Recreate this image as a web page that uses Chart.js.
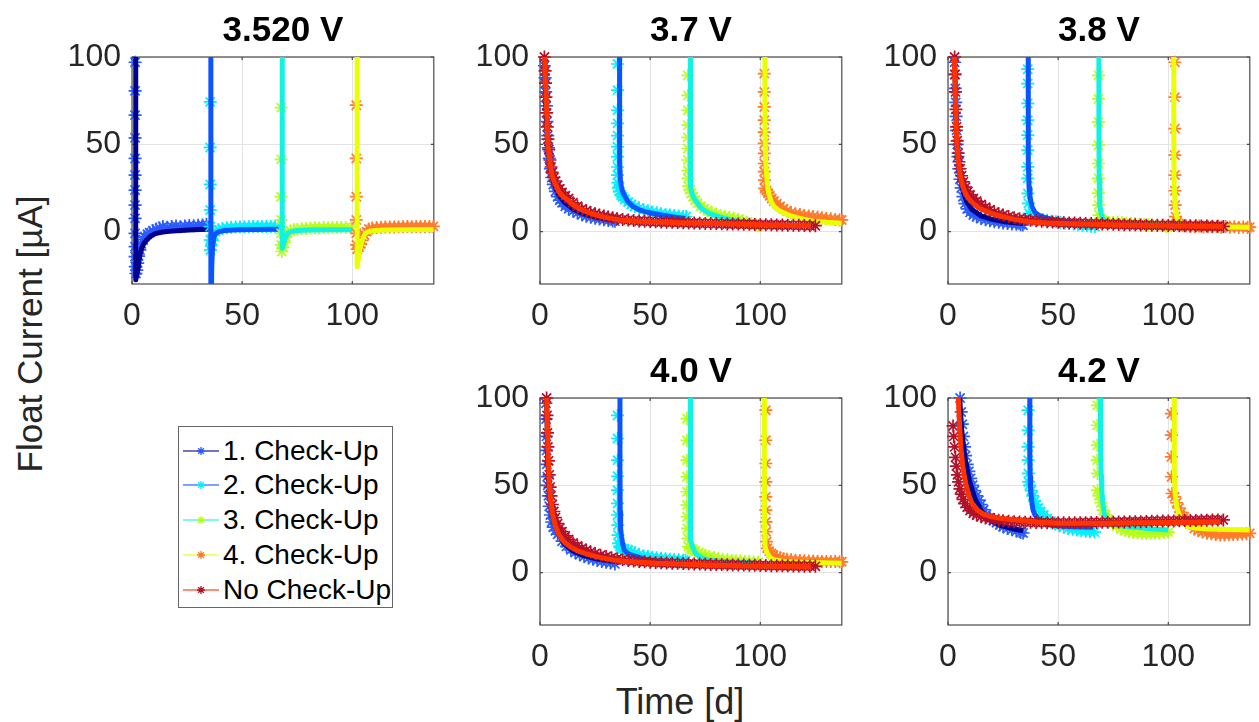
<!DOCTYPE html>
<html>
<head>
<meta charset="utf-8">
<script src="https://cdn.jsdelivr.net/npm/chart.js@4.4.1/dist/chart.umd.min.js"></script>
<style>
  html, body { margin: 0; padding: 0; background: #fff; overflow: hidden; }
  body { width: 1259px; height: 722px; position: relative; font-family: 'Liberation Sans', Arial, sans-serif; }
  canvas.plot { position: absolute; }
  #ylabel { position: absolute; left: 30px; top: 334px; transform: translate(-50%, -50%) rotate(-90deg); font-size: 35px; color: #262626; white-space: nowrap; }
  #xlabel { position: absolute; left: 680px; top: 702px; transform: translate(-50%, -50%); font-size: 36px; color: #262626; white-space: nowrap; }
  #legend { position: absolute; left: 178px; top: 426px; width: 213px; height: 180px; border: 1px solid #666; background: #fff; }
  .item { position: absolute; left: 2px; height: 30px; display: flex; align-items: center; font-size: 28px; color: #000; white-space: nowrap; }
  .item svg { margin-right: 2px; }
</style>
</head>
<body>
<div id="ylabel">Float Current [µA]</div>
<div id="xlabel">Time [d]</div>
<div id="legend"></div>
<script>
// axes
const xMin = 0, xMax = 137, yMin = -30, yMax = 100;
const xTicks = [0, 50, 100];
const yTicks = [0, 50, 100];

const titles = ['3.520 V', '3.7 V', '3.8 V', '4.0 V', '4.2 V'];
const seriesNames = ['1. Check-Up', '2. Check-Up', '3. Check-Up', '4. Check-Up', 'No Check-Up'];
const lineColors = ['#00008f', '#0a55ff', '#10f2e2', '#eaff00', '#ff3300'];
const markerColors = ['#2a5cff', '#00f0ff', '#b5ff1a', '#ff7a2a', '#b3102a'];

// measured points (m) and fitted curves (f), [day, µA]
// 3.520 V
const m352_1 = [[1.4,97],[1.4,80.6],[1.4,66.7],[1.4,53.7],[1.4,41.9],[1.4,32.4],[1.4,23.8],[1.4,15.2],[1.4,7.6],[1.4,-1],[1.4,-8.6],[1.4,-14.3],[1.5,-20],[1.8,-24],[2.2,-22],[2.6,-18],[3,-14],[3.6,-10.5],[4.2,-7],[5,-4.5],[5.8,-2.9],[7,-1.5],[8,-0.6],[9.5,0.5],[11,1.5],[12.5,2],[14,2.9],[16,2.5],[18,3],[20,3.2],[22,2.8],[24,3.2],[26,3.5],[28,3.3],[30,3.6],[32,3.8],[33.8,4.2]];
const f352_1 = [[1.7,130],[1.7,-27.6],[2.2,-25],[2.9,-20],[3.5,-14],[4.3,-10],[5.3,-7],[6.6,-4.8],[8.5,-2.5],[11,-1],[14,-0.2],[17,0.2],[22,0.6],[28,1],[34.8,1.3]];
const m352_2 = [[35.5,74.3],[35.5,48.2],[35.5,27],[35.5,12.4],[35.5,2.9],[35.5,-4.8],[35.6,-10.5],[36,-8],[36.5,-5],[37,-1.9],[38,0],[39.2,1],[41,1.8],[43,2.2],[45,2.5],[47,2.6],[49,2.7],[51,2.8],[53,2.8],[55,2.9],[57,2.9],[59,3],[61,2.9],[63,3],[65,3],[66.5,3]];
const f352_2 = [[35.8,130],[35.8,-60],[36.2,-20],[36.6,-8],[37.2,-3],[38,-1],[39.5,0],[42,0.6],[48,1],[56,1.2],[66.5,1.3]];
const m352_3 = [[67.7,71],[67.7,41.4],[67.7,20],[67.7,6.7],[67.7,-1],[67.8,-7.6],[68,-11.4],[68.5,-9],[69,-6],[69.8,-3],[70.5,-1],[72,0.5],[73.5,1],[75,1.2],[77,1.6],[79,1.8],[81,2],[83,2.2],[85,2.1],[87,2.3],[89,2.2],[91,2.3],[93,2.4],[95,2.3],[97,2.4],[99.5,2.4]];
const f352_3 = [[68.2,130],[68.2,-9.5],[68.6,-8],[69.2,-5],[70,-2.5],[70.5,-1],[72,0],[75,0.6],[80,0.9],[90,1],[100,1]];
const m352_4 = [[101.8,72.4],[101.8,41.9],[101.8,20],[101.8,6.7],[101.8,-1],[101.9,-7.6],[102.2,-10.1],[103,-9],[103.8,-7],[104.5,-5],[105.5,-2],[106.5,0],[107.5,1.5],[109,2],[111,2.3],[113,2.5],[115,2.6],[117,2.7],[119,2.7],[121,2.8],[123,2.8],[125,2.9],[127,2.8],[129,2.9],[131,2.9],[133,3],[135,2.9],[136.8,3]];
const f352_4 = [[102.2,130],[102.2,-20],[102.7,-16],[103.2,-11],[103.7,-8.6],[104.5,-5],[105.9,-1],[108,0.3],[112,0.8],[120,1],[137,1.2]];

// 3.7 V
const m37_1 = [[2,95],[2.3,88],[2.6,80],[2.9,72],[3.2,63],[3.5,55],[3.8,48],[4.2,42],[4.7,36],[5.3,31],[6,27],[7,23],[8,20],[9,18],[10,16.5],[11.5,14.5],[13,13],[15,11.8],[17,10.6],[19,9.6],[21,8.8],[23,8.2],[25,7.6],[27,7.2],[29,6.8],[31,6.4],[33,6.1],[34,6]];
const f37_1 = [[2,130],[2.1,100],[2.6,75],[3.2,58],[4,45],[5,35],[6.5,27],[8.5,21],[11,17],[15,13],[20,10],[26,8],[34,6.5]];
const m37_2 = [[35.2,96],[35.2,81],[35.2,69.5],[35.2,62],[35.2,55],[35.2,48.6],[35.2,42.9],[35.2,37],[35.2,32.4],[35.3,28],[35.6,25],[36,23],[36.8,21],[37.5,20],[38.5,18.5],[40,17],[41.5,15.5],[43,14.5],[45,13.5],[47,12.5],[49,12],[51,11.3],[53,10.8],[55,10.3],[57,9.8],[59,9.5],[61,9.2],[63,9],[65,8.7],[66.3,8.6]];
const f37_2 = [[36.1,130],[36.1,60],[36.2,40],[36.5,30],[37,25],[37.8,22],[38.6,20],[40,17],[42.3,14.3],[45,12.5],[48,11.3],[51,10.5],[55,9.5],[60,8.5],[66,7.5]];
const m37_3 = [[67.1,89.5],[67.1,78],[67.1,69.5],[67.1,61],[67.1,54],[67.1,47.6],[67.1,41],[67.1,35],[67.2,30.5],[67.5,26],[68,24],[68.7,22],[69.5,20],[70.5,18],[71.5,16.3],[73,14.5],[74.5,13],[76,12],[78,11],[80,10],[82,9.3],[84,8.7],[86,8.2],[88,7.6],[90,7],[92,6.2],[94,5.4],[96,4.6],[98,3.8],[99,3.4]];
const f37_3 = [[68.2,130],[68.2,60],[68.3,40],[68.5,25.7],[69,22],[70,19],[71.5,16.2],[73.5,13],[76.7,10.5],[80,9],[84,7.6],[87,6.7],[92,5.7],[98.8,4.8]];
const m37_4 = [[101.8,90.5],[101.8,80],[101.8,71.4],[101.8,63.8],[101.8,57],[101.8,50.5],[101.8,44.8],[101.8,39],[101.8,34.3],[101.9,29.5],[102,24.8],[102.8,23.5],[103.5,22],[104.3,20.5],[105.2,19],[106.2,17.5],[107.5,16],[109,14.5],[110.5,13],[112,12],[114,11],[116,10.3],[118,9.8],[120,9.3],[122,9],[124,8.6],[126,8.3],[128,8],[130,7.6],[132,7.3],[134,7],[136,6.8],[137,6.7]];
const f37_4 = [[102.1,130],[102.1,60],[102.4,40],[103.3,25.7],[104,21],[105,17],[106.3,14.3],[108,12.5],[110,11],[113.7,9],[118,7.5],[124,6],[130,5.3],[137,4.8]];
const m37_5 = [[2,100],[2.3,92],[2.5,85],[2.7,77],[3,68],[3.3,60],[3.6,53],[4,47],[4.5,41],[5,37],[5.5,34],[6.3,31],[7,29],[8,26.5],[9,24.5],[10,22.5],[11.5,20.5],[13,19],[15,16.5],[17,14.5],[19,13],[21,12],[23,11],[25,10.2],[27,9.5],[29,9],[31,8.4],[33,7.9],[35,7.4],[37.5,7],[40,6.6],[42.5,6.3],[45,6.1],[47.5,5.9],[50,5.8],[52.5,5.6],[55,5.5],[57.5,5.4],[60,5.3],[62.5,5.2],[65,5.1],[67.5,5],[70,4.9],[72.5,4.8],[75,4.7],[77.5,4.7],[80,4.6],[82.5,4.5],[85,4.4],[87.5,4.4],[90,4.3],[92.5,4.2],[95,4.2],[97.5,4.1],[100,4],[102.5,4],[105,3.9],[107.5,3.8],[110,3.8],[112.5,3.7],[115,3.6],[117.5,3.6],[120,3.5],[122.5,3.4],[125,3.4]];
const f37_5 = [[2,130],[2.1,100],[2.5,85],[3,70],[3.6,50],[4.5,40],[5.5,32],[6.8,27.6],[8.5,23],[10.5,20],[12.7,18],[15,15.5],[18,13],[23,10.5],[29,8.3],[36,6.7],[45,5.9],[60,5.2],[80,4.6],[100,4],[123,3.4]];

// 3.8 V
const m38_1 = [[3,97],[3.1,90],[3.3,82],[3.5,74],[3.7,66],[3.9,58],[4.2,50],[4.5,43],[4.9,36],[5.4,30],[6,25],[6.8,20],[7.7,16],[8.7,13],[10,11],[11.5,9.5],[13,8.5],[15,7.5],[17,6.8],[19,6.2],[21,5.7],[23,5.3],[25,5],[27,4.7],[29,4.4],[31,4.2],[33,4],[34,3.8]];
const f38_1 = [[3,130],[3,100],[3.5,70],[4.2,48],[5,36],[6.5,25],[8.5,17],[11,12.5],[15,9],[20,7],[26,5.6],[34,4.6]];
const m38_2 = [[36.2,93],[36.2,84.8],[36.2,73.4],[36.2,63.8],[36.2,55.3],[36.2,46.7],[36.2,37.1],[36.2,30.5],[36.3,21.9],[36.5,16.2],[36.8,10.5],[37.5,9],[38.5,8.5],[39.5,8],[41,7.5],[43,7],[45,6.5],[47,6],[49,5.6],[51,5.2],[53,4.9],[55,4.6],[57,4.3],[59,4],[61,3.7],[63,3.4],[65,3.1],[66.7,2.9]];
const f38_2 = [[36.4,130],[36.4,60],[36.5,40],[36.8,25],[37.2,20],[38.1,14.3],[39.5,11],[41,9.5],[44,8],[48,6.8],[53,5.8],[58,5],[63,4.4],[66.5,4]];
const m38_3 = [[68.3,89.5],[68.3,76],[68.3,62.8],[68.3,49.5],[68.3,39],[68.3,30.5],[68.3,22],[68.4,15.2],[68.6,9.5],[69.2,7.5],[70,6.2],[71.5,5.5],[73,5.2],[75,5.2],[77,5.3],[79,5.1],[81,4.9],[83,4.8],[85,4.6],[87,4.3],[89,4.1],[91,3.9],[93,3.7],[95,3.5],[97,3.3],[99,3.1],[100,3]];
const f38_3 = [[68.5,130],[68.5,60],[68.6,30],[68.9,15],[69.5,10.5],[70.2,7.5],[71.2,5.7],[73,4.8],[78,4.3],[85,4],[92,3.7],[100,3.5]];
const m38_4 = [[103,97],[103,77],[103,59],[103,43.8],[103,32.4],[103,23.4],[103.1,15.2],[103.3,8.6],[104,5.5],[105,4.2],[106.5,3.6],[108,3.3],[110,3],[112,2.8],[114,3.2],[116,2.7],[118,3],[120,2.6],[122,3],[124,2.5],[126,2.9],[128,2.5],[130,2.8],[132,2.4],[134,2.7],[136,2.4],[137,2.6]];
const f38_4 = [[102.5,130],[102.5,60],[102.6,30],[103.1,15],[103.8,8.6],[104.5,6],[106,4.8],[110,3.8],[118,3],[128,2.7],[137,2.5]];
const m38_5 = [[3,100],[3.2,90],[3.4,80],[3.6,70],[3.9,60],[4.2,52],[4.6,45],[5,40],[5.5,36],[6.2,32],[7,28.5],[8,25.5],[9,23],[10,21],[11.5,19],[13,17.5],[15,15.5],[17,14],[19,12.5],[21,11.3],[23,10.3],[25,9.5],[27.5,8.7],[30,8],[32.5,7.4],[35,6.9],[37.5,6.5],[40,6.2],[42.5,5.9],[45,5.7],[47.5,5.5],[50,5.3],[52.5,5.1],[55,5],[57.5,4.9],[60,4.8],[62.5,4.7],[65,4.6],[67.5,4.5],[70,4.4],[72.5,4.3],[75,4.2],[77.5,4.1],[80,4],[82.5,3.9],[85,3.9],[87.5,3.8],[90,3.7],[92.5,3.7],[95,3.6],[97.5,3.6],[100,3.5],[102.5,3.5],[105,3.4],[107.5,3.4],[110,3.3],[112.5,3.3],[115,3.2],[117.5,3.2],[120,3.1],[122.5,3.1],[125,3]];
const f38_5 = [[2.9,130],[2.9,100],[3.3,80],[3.7,62],[4.1,50],[4.6,42],[5.3,34],[6.3,27.6],[7.5,23],[8.7,20],[10,18],[12,15.5],[14,13.7],[16,12.4],[20,10.3],[24.8,8.6],[30,7],[36.7,5.7],[45,5],[60,4.4],[80,3.8],[100,3.4],[125,3]];

// 4.0 V
const m40_1 = [[2.7,97],[2.8,88],[2.9,78],[3,70],[3.1,62],[3.3,55],[3.5,50],[3.8,44],[4.2,38],[4.7,33],[5.3,29],[6,26],[7,24],[8,22],[10,18],[12,15],[14,13],[16,11.5],[18,10.2],[20,9.2],[22,8.3],[24,7.6],[26,7],[28,6.4],[30,6],[32,5.5],[34,5]];
const f40_1 = [[3,130],[3,100],[3.5,65],[4.2,48],[5.2,37],[6.5,29],[8.5,22],[11,16.5],[15,12.3],[20,9.7],[26,7.8],[34,6.3]];
const m40_2 = [[35.2,90],[35.2,76.8],[35.2,64.4],[35.2,55.2],[35.2,47.2],[35.2,39.6],[35.2,33],[35.3,27.2],[35.4,21.5],[35.6,16.8],[36.2,15],[36.8,14.2],[37.5,13.6],[38.5,13.2],[40,12.8],[41.5,12.2],[43,11.3],[45,10.4],[47,9.7],[49,9.2],[51,8.8],[53,8.5],[55,8.2],[57,7.9],[59,7.7],[61,7.5],[63,7.3],[65,7.1],[66,7]];
const f40_2 = [[36.3,130],[36.3,60],[36.4,35],[36.6,25],[37,20.6],[37.6,16],[38.2,13],[39.5,11.3],[41.5,10],[44,9.1],[48,7.6],[53,6.3],[58,5.4],[64.8,4.4]];
const m40_3 = [[66.7,88.2],[66.7,75.8],[66.7,64.4],[66.7,54.9],[66.7,46.3],[66.7,38.7],[66.8,32],[66.9,25.3],[67.1,19.6],[67.4,14.9],[68.3,13.8],[69.3,13.2],[70.5,12.5],[72,11.5],[73.5,10.5],[75,9.9],[77,9.2],[79,8.6],[81,8],[83,7.6],[85,7.3],[87,7],[89,6.8],[91,6.7],[93,6.5],[95,6.3],[97,6.1],[99,6]];
const f40_3 = [[68.2,130],[68.2,60],[68.3,30],[68.5,18.7],[69.2,15],[70,12.5],[70.7,11],[72,9.5],[74,8.2],[76.6,7.2],[82,6.5],[90,5.9],[98.8,5.3]];
const m40_4 = [[102.5,93],[102.5,75.8],[102.5,62.5],[102.5,52],[102.5,43.4],[102.5,35.8],[102.6,29.1],[102.7,23.4],[102.9,17.7],[103.2,13.9],[104,12.3],[105,11],[106,10],[107.5,9.2],[109,8.5],[110.5,8],[112,7.6],[114,7.3],[116,7.1],[118,6.9],[120,6.8],[122,6.7],[124,6.6],[126,6.5],[128,6.4],[130,6.4],[132,6.3],[134,6.3],[136,6.2],[137,6.2]];
const f40_4 = [[101.8,130],[101.8,60],[101.9,30],[102.2,14.9],[103,11.5],[104,9.5],[104.8,8.2],[106.5,7.2],[110,6.5],[118,6],[128,5.6],[137,5.3]];
const m40_5 = [[3,100],[3.2,90],[3.4,80],[3.6,72],[3.9,64],[4.2,56],[4.6,49],[5,44],[5.6,39],[6.3,35],[7,31.5],[8,28],[9,25.5],[10,23.5],[11.5,21],[13,19],[15,17],[17,15.3],[19,14],[21,12.8],[23,11.8],[25,11],[27.5,10],[30,9.2],[32.5,8.5],[35,7.9],[37.5,7.4],[40,7],[42.5,6.7],[45,6.4],[47.5,6.2],[50,6],[52.5,5.8],[55,5.6],[57.5,5.5],[60,5.4],[62.5,5.3],[65,5.2],[67.5,5.1],[70,5],[72.5,4.9],[75,4.8],[77.5,4.7],[80,4.6],[82.5,4.6],[85,4.5],[87.5,4.4],[90,4.4],[92.5,4.3],[95,4.2],[97.5,4.2],[100,4.1],[102.5,4.1],[105,4],[107.5,4],[110,3.9],[112.5,3.9],[115,3.8],[117.5,3.8],[120,3.7],[122.5,3.7],[125,3.6]];
const f40_5 = [[3,130],[3,100],[3.3,85],[3.6,70],[3.9,60],[4.2,50],[4.8,42],[5.5,35],[6.3,30],[7.1,26.3],[8.5,22],[10,19],[11.6,16.8],[14,14.5],[17,12.5],[20.4,11],[25,9.3],[30,8],[33.8,7.2],[40,6.3],[53,5.3],[70,4.6],[90,4],[110,3.7],[123,3.4]];

// 4.2 V
const m42_1 = [[5.5,100],[6,92],[6.5,85],[7,78],[7.5,72],[8,67],[8.7,62],[9.5,58],[10.3,54],[11.2,50],[12,47],[13,44],[14,41.5],[15,39],[16.2,36],[17.5,33.5],[19,31.5],[20.5,30],[22,28.5],[23.5,27.2],[25,26.3],[27,25.3],[29,24.5],[31,23.8],[33,23],[34.1,22.7]];
const f42_1 = [[5.3,130],[5.3,100],[6.3,80],[7.8,65],[9.8,52],[12.3,42],[15.3,35],[19,30],[24,27],[30,25],[34.1,24]];
const m42_2 = [[36.4,93],[36.4,81.5],[36.4,72],[36.4,64.4],[36.5,56.8],[36.6,52],[37,50],[37.8,47],[38.5,44],[39.3,41],[40,39],[41,37],[42,35],[43.5,33],[45,31],[46.7,29.5],[48.5,28],[50.5,27],[52.5,26],[54.5,25.3],[56.5,24.8],[58.5,24.4],[60.5,24],[62.5,23.7],[64.4,23.4],[66.5,23.2]];
const f42_2 = [[37.1,130],[37.1,100],[37.2,70],[37.3,55],[37.5,47.2],[38,41],[38.6,35.8],[39.5,33],[41.5,30.1],[44,28.3],[46.7,27.2],[52,26.5],[58,26.2],[66,26]];
const m42_3 = [[67.7,95.8],[67.7,84.4],[67.7,73],[67.7,64.4],[67.8,56.8],[67.9,47.2],[68.5,44],[69.3,40],[70.4,35.8],[71.5,33],[72.8,30.5],[74.8,28.2],[76.5,26.5],[78.5,25],[80.5,24],[82.2,23.4],[84,23],[86,22.7],[88,22.5],[90,22.5],[92,22.4],[94,22.5],[96,22.6],[98,22.8],[100,23.2]];
const f42_3 = [[69.2,130],[69.2,100],[69.3,70],[69.5,55],[69.8,47.2],[70.3,40],[71.1,32],[72.5,29.5],[74,28.2],[76.3,27.2],[80,26.5],[86,25.8],[93,25],[100,24.4]];
const m42_4 = [[101.4,91],[101.4,78.7],[101.4,66.3],[101.5,54.9],[101.7,45.3],[102.9,43.4],[103.8,40],[104.8,37],[105.8,34.5],[107.3,32],[108.5,30],[109.8,28],[111.8,25.3],[113.5,24],[115.5,23.2],[117.5,22.6],[119.5,22.2],[121.5,21.8],[123.6,21.5],[125.5,21.6],[127.5,21.7],[129.5,21.8],[131.5,22],[133.5,22.1],[135.5,22.3],[137,22.5]];
const f42_4 = [[102.6,130],[102.6,100],[102.7,70],[102.9,55],[103.2,43.4],[104,37],[105.2,32],[106.5,29],[108.9,26.3],[112,25.5],[118,25],[127,24.7],[137,24.4]];
const m42_5 = [[2.3,84],[2.6,78],[3,72],[3.4,66],[3.8,61],[4.3,56],[4.8,52],[5.4,48],[6,45],[6.8,42],[7.7,39.5],[8.7,37.5],[10,35.5],[11.5,34],[13,33],[15,32],[17,31.3],[19,30.7],[21,30.3],[23,30],[25,29.7],[27.5,29.4],[30,29.2],[32.5,29],[35,28.9],[37.5,28.8],[40,28.7],[42.5,28.7],[45,28.6],[47.5,28.6],[50,28.5],[52.5,28.5],[55,28.5],[57.5,28.5],[60,28.6],[62.5,28.6],[65,28.7],[67.5,28.7],[70,28.8],[72.5,28.8],[75,28.9],[77.5,29],[80,29],[82.5,29.1],[85,29.2],[87.5,29.2],[90,29.3],[92.5,29.4],[95,29.4],[97.5,29.5],[100,29.6],[102.5,29.6],[105,29.7],[107.5,29.8],[110,29.8],[112.5,29.9],[115,30],[117.5,30],[120,30.1],[122.5,30.2],[125,30.2]];
const f42_5 = [[4.7,130],[4.7,100],[5.1,88],[5.6,77],[6,70],[6.6,62],[7.3,56],[8.2,50.3],[9.5,44],[11,39.5],[13.4,35.8],[16,33.5],[20,32],[25,30.8],[31.9,30],[40,29],[50,28.3],[70,28.2],[90,28.5],[110,28.9],[123.6,29.1]];

const measured = [
  [m352_1, m352_2, m352_3, m352_4],
  [m37_1, m37_2, m37_3, m37_4, m37_5],
  [m38_1, m38_2, m38_3, m38_4, m38_5],
  [m40_1, m40_2, m40_3, m40_4, m40_5],
  [m42_1, m42_2, m42_3, m42_4, m42_5]
];
const fitted = [
  [f352_1, f352_2, f352_3, f352_4],
  [f37_1, f37_2, f37_3, f37_4, f37_5],
  [f38_1, f38_2, f38_3, f38_4, f38_5],
  [f40_1, f40_2, f40_3, f40_4, f40_5],
  [f42_1, f42_2, f42_3, f42_4, f42_5]
];

// layout: plot area left/top on the page
const plotPos = [[132, 57], [540, 57], [948, 57], [540, 398], [948, 398]];
const areaW = 308, areaH = 227, axisW = 110, titleH = 57, axisH = 60, padR = 2;
const fontFamily = "'Liberation Sans', Arial, sans-serif";

const axesBox = {
  id: 'axesBox',
  beforeDatasetsDraw(chart) {
    const { ctx, chartArea: a, scales } = chart;
    ctx.save();
    ctx.strokeStyle = '#4a4a4a';
    ctx.lineWidth = 1.2;
    ctx.strokeRect(a.left, a.top, a.width, a.height);
    ctx.beginPath();
    xTicks.forEach(v => {
      const px = scales.x.getPixelForValue(v);
      ctx.moveTo(px, a.bottom); ctx.lineTo(px, a.bottom - 3);
      ctx.moveTo(px, a.top); ctx.lineTo(px, a.top + 3);
    });
    yTicks.forEach(v => {
      const py = scales.y.getPixelForValue(v);
      ctx.moveTo(a.left, py); ctx.lineTo(a.left + 3, py);
      ctx.moveTo(a.right, py); ctx.lineTo(a.right - 3, py);
    });
    ctx.stroke();
    ctx.restore();
  }
};

function toXY(pts) {
  return pts.map(p => ({ x: p[0], y: p[1] }));
}

function makePlot(i) {
  const canvas = document.createElement('canvas');
  canvas.className = 'plot';
  canvas.width = axisW + areaW + padR;
  canvas.height = titleH + areaH + axisH;
  canvas.style.left = (plotPos[i][0] - axisW) + 'px';
  canvas.style.top = (plotPos[i][1] - titleH) + 'px';
  document.body.appendChild(canvas);

  const datasets = [];
  measured[i].forEach((pts, k) => {
    datasets.push({
      label: seriesNames[k],
      data: toXY(pts),
      showLine: false,
      pointStyle: 'star',
      pointRadius: 6.5,
      pointBorderWidth: 1.7,
      pointBorderColor: markerColors[k],
      pointBackgroundColor: markerColors[k],
      clip: false
    });
    datasets.push({
      label: seriesNames[k] + ' fit',
      data: toXY(fitted[i][k]),
      showLine: true,
      pointRadius: 0,
      borderWidth: 5,
      borderColor: lineColors[k],
      borderJoinStyle: 'round',
      tension: 0,
      clip: 0
    });
  });
  // later series are drawn on top
  datasets.forEach((d, j) => { d.order = datasets.length - j; });

  new Chart(canvas.getContext('2d'), {
    type: 'scatter',
    data: { datasets },
    plugins: [axesBox],
    options: {
      responsive: false,
      animation: false,
      events: [],
      layout: { padding: { left: 0, right: padR, top: 0, bottom: 0 } },
      plugins: {
        legend: { display: false },
        tooltip: { enabled: false },
        title: {
          display: true,
          text: titles[i],
          fullSize: false,
          color: '#000',
          font: { family: fontFamily, size: 35, weight: 'bold' },
          padding: { top: 10, bottom: 5 }
        }
      },
      scales: {
        x: {
          type: 'linear',
          min: xMin,
          max: xMax,
          afterBuildTicks: s => { s.ticks = xTicks.map(v => ({ value: v })); },
          afterFit: s => { s.height = axisH; },
          ticks: { color: '#262626', font: { family: fontFamily, size: 32 }, padding: 13, autoSkip: false, maxRotation: 0 },
          grid: { color: '#e3e3e3', drawTicks: false },
          border: { display: false }
        },
        y: {
          type: 'linear',
          min: yMin,
          max: yMax,
          afterBuildTicks: s => { s.ticks = yTicks.map(v => ({ value: v })); },
          afterFit: s => { s.width = axisW; },
          ticks: { color: '#262626', font: { family: fontFamily, size: 32 }, padding: 11 },
          grid: { color: '#e3e3e3', drawTicks: false },
          border: { display: false }
        }
      }
    }
  });
}

titles.forEach((t, i) => makePlot(i));

// legend
function legendIcon(k) {
  const c = markerColors[k];
  return '<svg width="40" height="14"><line x1="2" y1="7" x2="38" y2="7" stroke="' + lineColors[k] +
    '" stroke-opacity="0.55" stroke-width="2"/><path d="M20 3v8M16 7h8M17.2 4.2l5.6 5.6M22.8 4.2l-5.6 5.6" stroke="' + c +
    '" stroke-width="1.3" fill="none"/></svg>';
}
const legend = document.getElementById('legend');
seriesNames.forEach((name, k) => {
  const row = document.createElement('div');
  row.className = 'item';
  row.style.top = (23.5 + k * 34.8 - 15) + 'px';
  row.innerHTML = legendIcon(k) + '<span>' + name + '</span>';
  legend.appendChild(row);
});
</script>
</body>
</html>
